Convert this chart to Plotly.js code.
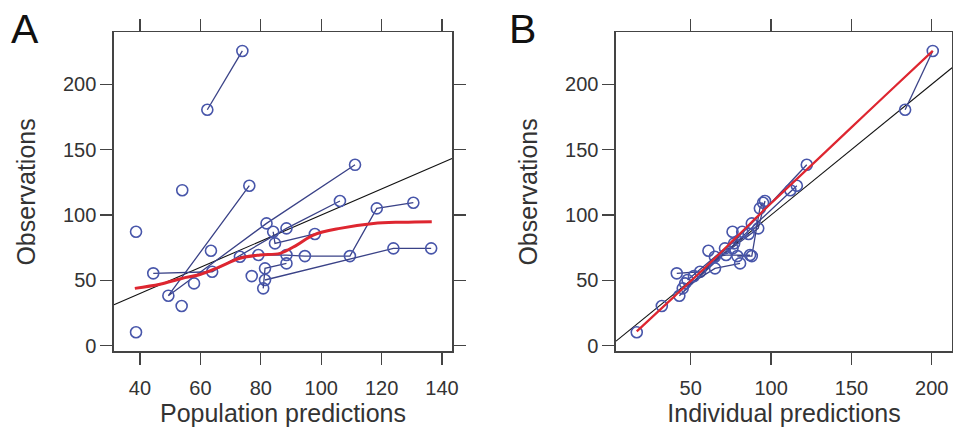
<!DOCTYPE html>
<html>
<head>
<meta charset="utf-8">
<script src="https://cdn.plot.ly/plotly-3.0.1.min.js"></script>
<style>html,body{margin:0;padding:0;background:#fff;}#chart{width:953px;height:442px;}</style>
</head>
<body>
<div id="chart"></div>
<script>
// ---- data ----
const ID    = [1,1, 2,2,2,2, 3,3,3,3, 4, 5, 6, 7, 8, 9, 10,10,10,10,10,10,10, 11,11,11, 12,12,12, 13,13,13, 14];
const PRED  = [62.3,73.9, 76.2,49.4,81.9,111.2, 44.4,63.9,88.5,106.2, 38.7, 38.7, 54.0, 53.8, 57.9, 63.5,
               73.1,79.2,88.5,94.6,109.5,118.4,130.5, 81.4,123.9,136.4, 80.8,81.4,88.5, 84.1,84.7,97.9, 77.0];
const IPRED = [183.4,200.6, 116.0,42.9,88.0,122.2, 41.3,55.8,92.0,96.2, 76.0, 16.4, 112.0, 32.0, 46.5, 61.0,
               65.0,72.0,86.9,79.0,88.0,93.0,95.0, 48.0,71.3,76.0, 45.0,65.1,80.7, 82.0,77.0,86.0, 52.0];
const DV    = [180.5,225.5, 122.4,38.3,93.6,138.4, 55.4,56.6,89.8,110.7, 87.2, 10.3, 119.0, 30.4, 47.7, 72.7,
               68.1,69.4,69.4,68.6,68.6,105.1,109.4, 50.3,74.5,74.5, 43.9,59.2,63.0, 87.2,78.3,85.5, 53.3];

// smooth (loess) curves
const smoothA_x = [38.3, 46.6, 53.8, 59.9, 66.0, 73.1, 79.7, 86.4, 91.9, 97.4, 106.2, 117.3, 127.0, 136.6];
const smoothA_y = [43.9, 47.0, 51.5, 54.5, 60.0, 66.9, 69.5, 70.7, 77.0, 84.7, 89.8, 93.6, 94.5, 94.9];
const smoothB_x = [16.4, 40, 60, 80, 100, 125, 150, 175, 200.6];
const smoothB_y = [11.0, 38, 61, 85, 109, 138, 167, 196, 225.5];

// axis ranges and ticks
const rangeAx = [31.4, 143.3];
const rangeBx = [3.5, 212.6];
const rangeY  = [-4.3, 239.6];
const ticksAx = [40, 60, 80, 100, 120, 140];
const ticksBx = [50, 100, 150, 200];
const ticksY  = [0, 50, 100, 150, 200];

// ---- build traces ----
const ptColor = 'rgb(72,86,170)';
const lnColor = 'rgb(58,66,135)';
const traces = [];
const ids = [...new Set(ID)];
function subjectTraces(xArr, xa, ya) {
  ids.forEach(id => {
    const xs = [], ys = [];
    ID.forEach((v, i) => { if (v === id) { xs.push(xArr[i]); ys.push(DV[i]); } });
    traces.push({
      x: xs, y: ys, xaxis: xa, yaxis: ya, type: 'scatter', mode: 'lines+markers',
      line: {color: lnColor, width: 1.3},
      marker: {symbol: 'circle-open', size: 11, color: ptColor, line: {width: 1.6, color: ptColor}},
      hoverinfo: 'x+y', showlegend: false
    });
  });
}
// identity lines
traces.push({x: rangeAx, y: rangeAx, xaxis: 'x', yaxis: 'y', mode: 'lines', line: {color: '#111', width: 1.1}, showlegend: false, hoverinfo: 'skip'});
traces.push({x: rangeBx, y: rangeBx, xaxis: 'x2', yaxis: 'y2', mode: 'lines', line: {color: '#111', width: 1.1}, showlegend: false, hoverinfo: 'skip'});
subjectTraces(PRED, 'x', 'y');
subjectTraces(IPRED, 'x2', 'y2');
traces.push({x: smoothA_x, y: smoothA_y, xaxis: 'x', yaxis: 'y', mode: 'lines', line: {color: 'rgb(222,38,48)', width: 3, shape: 'spline'}, showlegend: false});
traces.push({x: smoothB_x, y: smoothB_y, xaxis: 'x2', yaxis: 'y2', mode: 'lines', line: {color: 'rgb(222,38,48)', width: 2.2, shape: 'spline'}, showlegend: false});

const font = 'Liberation Sans, Arial, Helvetica, sans-serif';
function axis(extra) {
  return Object.assign({
    showline: true, linecolor: '#444', linewidth: 1.6, mirror: 'ticks',
    ticks: 'outside', ticklen: 12, tickwidth: 1.3, tickcolor: '#444',
    showgrid: false, zeroline: false,
    tickfont: {family: font, size: 20, color: '#333'},
    tickmode: 'array'
  }, extra);
}
const yDom = [0.205, 0.9265];
const layout = {
  width: 953, height: 442,
  margin: {l: 0, r: 0, t: 0, b: 0},
  paper_bgcolor: '#fff', plot_bgcolor: '#fff',
  showlegend: false,
  xaxis: axis({domain: [0.1196, 0.4743], range: rangeAx, tickvals: ticksAx, anchor: 'y', ticklabelstandoff: 6,
    title: {text: 'Population predictions', font: {family: font, size: 25, color: '#333'}, standoff: 5}}),
  yaxis: axis({domain: yDom, range: rangeY, tickvals: ticksY, anchor: 'x',
    title: {text: 'Observations', font: {family: font, size: 25, color: '#333'}, standoff: 20}}),
  xaxis2: axis({domain: [0.6464, 0.999], range: rangeBx, tickvals: ticksBx, anchor: 'y2', ticklabelstandoff: 6,
    title: {text: 'Individual predictions', font: {family: font, size: 25, color: '#333'}, standoff: 5}}),
  yaxis2: axis({domain: yDom, range: rangeY, tickvals: ticksY, anchor: 'x2',
    title: {text: 'Observations', font: {family: font, size: 25, color: '#333'}, standoff: 20}}),
  annotations: [
    {text: 'A', xref: 'paper', yref: 'paper', x: 9/953, y: 1 - 29/442, xanchor: 'left', yanchor: 'middle', showarrow: false, font: {family: font, size: 41, color: '#111'}},
    {text: 'B', xref: 'paper', yref: 'paper', x: 507/953, y: 1 - 29/442, xanchor: 'left', yanchor: 'middle', showarrow: false, font: {family: font, size: 41, color: '#111'}}
  ]
};
Plotly.newPlot('chart', traces, layout, {displayModeBar: false, staticPlot: true});
</script>
</body>
</html>
